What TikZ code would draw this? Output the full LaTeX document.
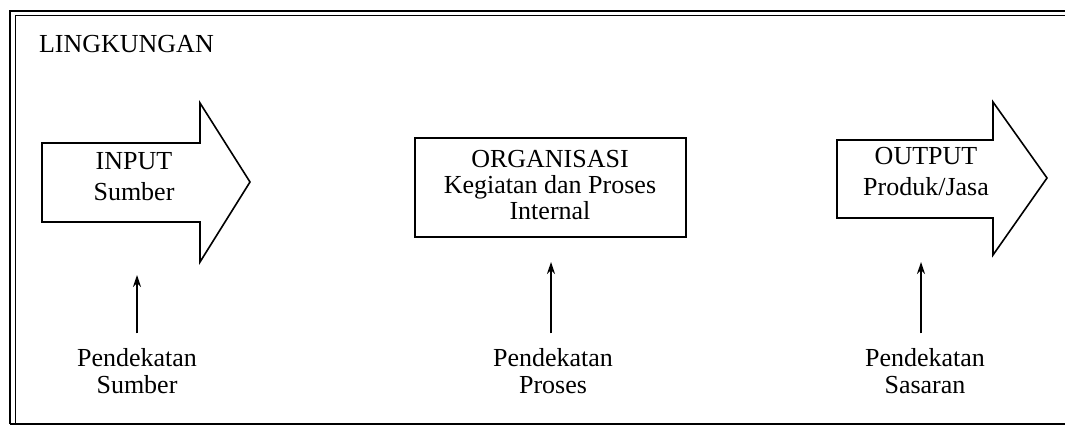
\documentclass[tikz,border=0pt]{standalone}
\usepackage{fontspec}
\setmainfont{Liberation Serif}
\usetikzlibrary{arrows.meta}

\begin{document}
\begin{tikzpicture}[x=0.5pt,y=-0.5pt,
    blok/.style={draw,line width=0.8pt},
    lbl/.style={align=center,font=\fontsize{13}{15.5}\selectfont},
    pdk/.style={align=center,font=\fontsize{13}{13.5}\selectfont},
    naik/.style={-{Stealth[length=6pt,width=4pt]},line width=0.7pt,shorten <=4pt}]
    \useasboundingbox (0,0) rectangle (1065,427);

    % Frame
    \draw[line width=0.9pt] (10,424) -- (10,11) -- (1065,11);
    \draw[line width=0.5pt] (15,424) -- (15,16) -- (1065,16);
    \draw[line width=0.6pt] (10,424) -- (1065,424);
    \node[lbl,anchor=west] (env) at (32,44) {LINGKUNGAN};

    % Input arrow
    \draw[blok] (42,143) -- (200,143) -- (200,103) -- (250,182)
        -- (200,262) -- (200,222) -- (42,222) -- cycle;
    \node[lbl] (input) at (134,177) {INPUT\\Sumber};

    % Organisasi box
    \draw[blok] (415,138) rectangle (686,237);
    \node[lbl,font=\fontsize{13}{13}\selectfont] (org) at (550,185)
        {ORGANISASI\\Kegiatan dan Proses\\Internal};

    % Output arrow
    \draw[blok] (837,140) -- (993,140) -- (993,102) -- (1047,178)
        -- (993,255) -- (993,218) -- (837,218) -- cycle;
    \node[lbl] (output) at (926,172) {OUTPUT\\Produk/Jasa};

    % Approaches
    \node[pdk] (pS) at (137,371) {Pendekatan\\Sumber};
    \node[pdk] (pP) at (553,371) {Pendekatan\\Proses};
    \node[pdk] (pT) at (925,371) {Pendekatan\\Sasaran};
    \coordinate (tS) at (137,275);
    \coordinate (tP) at (551,262);
    \coordinate (tT) at (921,262);
    \draw[naik] (pS.north -| tS) -- (tS);
    \draw[naik] (pP.north -| tP) -- (tP);
    \draw[naik] (pT.north -| tT) -- (tT);
\end{tikzpicture}
\end{document}
